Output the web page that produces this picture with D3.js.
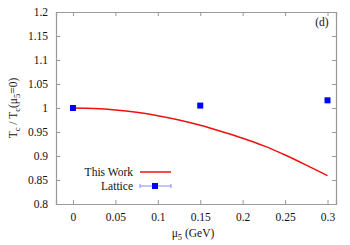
<!DOCTYPE html>
<html>
<head>
<meta charset="utf-8">
<script src="https://cdn.jsdelivr.net/npm/d3@7"></script>
<style>
  body { margin: 0; background: white; }
</style>
</head>
<body>
<div id="chart"></div>
<script>
// curve from this work
const muCurve = [0, 0.025, 0.05, 0.075, 0.1, 0.125, 0.15, 0.175, 0.2, 0.225, 0.25, 0.275, 0.3]
const tcCurve = [1.0, 0.999, 0.996, 0.991, 0.984, 0.975, 0.964, 0.951, 0.937, 0.921, 0.902, 0.881, 0.859]

// lattice points
const muLattice = [0, 0.15, 0.3]
const tcLattice = [1.0, 1.005, 1.016]
const errLattice = [0.002, 0.002, 0.002]

const xTicks = [0, 0.05, 0.1, 0.15, 0.2, 0.25, 0.3]
const yTicks = [0.8, 0.85, 0.9, 0.95, 1, 1.05, 1.1, 1.15, 1.2]

const serif = "'Liberation Serif', 'Times New Roman', serif"

function drawChart() {
    let width = 350, height = 245
    let margin = {left: 56, right: 14, top: 12, bottom: 41}

    let svg = d3.select("#chart").append("svg")
        .attr("width", width)
        .attr("height", height)
        .style("font-family", serif)

    let x = d3.scaleLinear()
        .domain([-0.02, 0.31])
        .range([margin.left, width - margin.right])

    let y = d3.scaleLinear()
        .domain([0.8, 1.2])
        .range([height - margin.bottom, margin.top])

    let frameColor = "#999"
    let tickLen = 4

    // axes with inward ticks, mirrored on top and right
    let bottomAxis = svg.append("g")
        .attr("transform", `translate(0,${y(0.8)})`)
        .call(d3.axisBottom(x).tickValues(xTicks).tickSize(-tickLen).tickPadding(9)
            .tickFormat(d => d3.format("")(d)))
    let topAxis = svg.append("g")
        .attr("transform", `translate(0,${y(1.2)})`)
        .call(d3.axisTop(x).tickValues(xTicks).tickSize(-tickLen).tickFormat(""))
    let leftAxis = svg.append("g")
        .attr("transform", `translate(${x(-0.02)},0)`)
        .call(d3.axisLeft(y).tickValues(yTicks).tickSize(-tickLen).tickPadding(8)
            .tickFormat(d => d3.format("")(+d.toFixed(2))))
    let rightAxis = svg.append("g")
        .attr("transform", `translate(${x(0.31)},0)`)
        .call(d3.axisRight(y).tickValues(yTicks).tickSize(-tickLen).tickFormat(""))

    for (let g of [bottomAxis, topAxis, leftAxis, rightAxis]) {
        g.attr("font-family", null).attr("font-size", 11.5)
        g.select(".domain").attr("stroke", frameColor).attr("stroke-width", 1.2)
        g.selectAll(".tick line").attr("stroke", frameColor)
        g.selectAll("text").attr("fill", "#111").style("font-family", serif)
    }

    // curve
    let line = d3.line()
        .x((d, i) => x(muCurve[i]))
        .y(d => y(d))
        .curve(d3.curveMonotoneX)

    svg.append("path")
        .datum(tcCurve)
        .attr("d", line)
        .attr("fill", "none")
        .attr("stroke", "#ee1111")
        .attr("stroke-width", 1.5)

    // lattice points
    let pts = svg.append("g")
    pts.selectAll("line")
        .data(muLattice)
        .enter().append("line")
        .attr("x1", d => x(d)).attr("x2", d => x(d))
        .attr("y1", (d, i) => y(tcLattice[i] - errLattice[i]))
        .attr("y2", (d, i) => y(tcLattice[i] + errLattice[i]))
        .attr("stroke", "#8888ff")
    pts.selectAll("rect")
        .data(muLattice)
        .enter().append("rect")
        .attr("x", d => x(d) - 3)
        .attr("y", (d, i) => y(tcLattice[i]) - 3)
        .attr("width", 6)
        .attr("height", 6)
        .attr("fill", "#0000ff")

    // legend
    let legend = svg.append("g").attr("font-size", 11.5).attr("fill", "#111")
    legend.append("text")
        .attr("x", 133).attr("y", 172)
        .attr("dy", "0.35em")
        .attr("text-anchor", "end")
        .text("This Work")
    legend.append("line")
        .attr("x1", 140).attr("x2", 171)
        .attr("y1", 172).attr("y2", 172)
        .attr("stroke", "#ee1111")
        .attr("stroke-width", 1.5)
    legend.append("text")
        .attr("x", 133).attr("y", 186)
        .attr("dy", "0.35em")
        .attr("text-anchor", "end")
        .text("Lattice")
    legend.append("line")
        .attr("x1", 140).attr("x2", 171)
        .attr("y1", 186).attr("y2", 186)
        .attr("stroke", "#8888ff")
        .attr("stroke-width", 1)
    for (let ex of [140, 171]) {
        legend.append("line")
            .attr("x1", ex).attr("x2", ex)
            .attr("y1", 184).attr("y2", 188)
            .attr("stroke", "#8888ff")
    }
    legend.append("rect")
        .attr("x", 152).attr("y", 183)
        .attr("width", 6).attr("height", 6)
        .attr("fill", "#0000ff")

    // panel label
    svg.append("text")
        .attr("x", 322).attr("y", 26)
        .attr("text-anchor", "middle")
        .attr("font-size", 11.5)
        .attr("fill", "#111")
        .text("(d)")

    // axis titles
    let xt = svg.append("text")
        .attr("x", 193).attr("y", 237)
        .attr("text-anchor", "middle")
        .attr("font-size", 11.5)
        .attr("fill", "#111")
    xt.append("tspan").text("μ")
    xt.append("tspan").attr("font-size", 8.5).attr("dy", 3).text("5")
    xt.append("tspan").attr("dy", -3).text(" (GeV)")

    let yt = svg.append("text")
        .attr("transform", `translate(17,${(margin.top + height - margin.bottom) / 2}) rotate(-90)`)
        .attr("text-anchor", "middle")
        .attr("font-size", 11.5)
        .attr("fill", "#111")
    yt.append("tspan").text("T")
    yt.append("tspan").attr("font-size", 8.5).attr("dy", 3).text("c")
    yt.append("tspan").attr("dy", -3).text(" / T")
    yt.append("tspan").attr("font-size", 8.5).attr("dy", 3).text("c")
    yt.append("tspan").attr("dy", -3).text("(μ")
    yt.append("tspan").attr("font-size", 8.5).attr("dy", 3).text("5")
    yt.append("tspan").attr("dy", -3).text("=0)")
}

drawChart()
</script>
</body>
</html>
